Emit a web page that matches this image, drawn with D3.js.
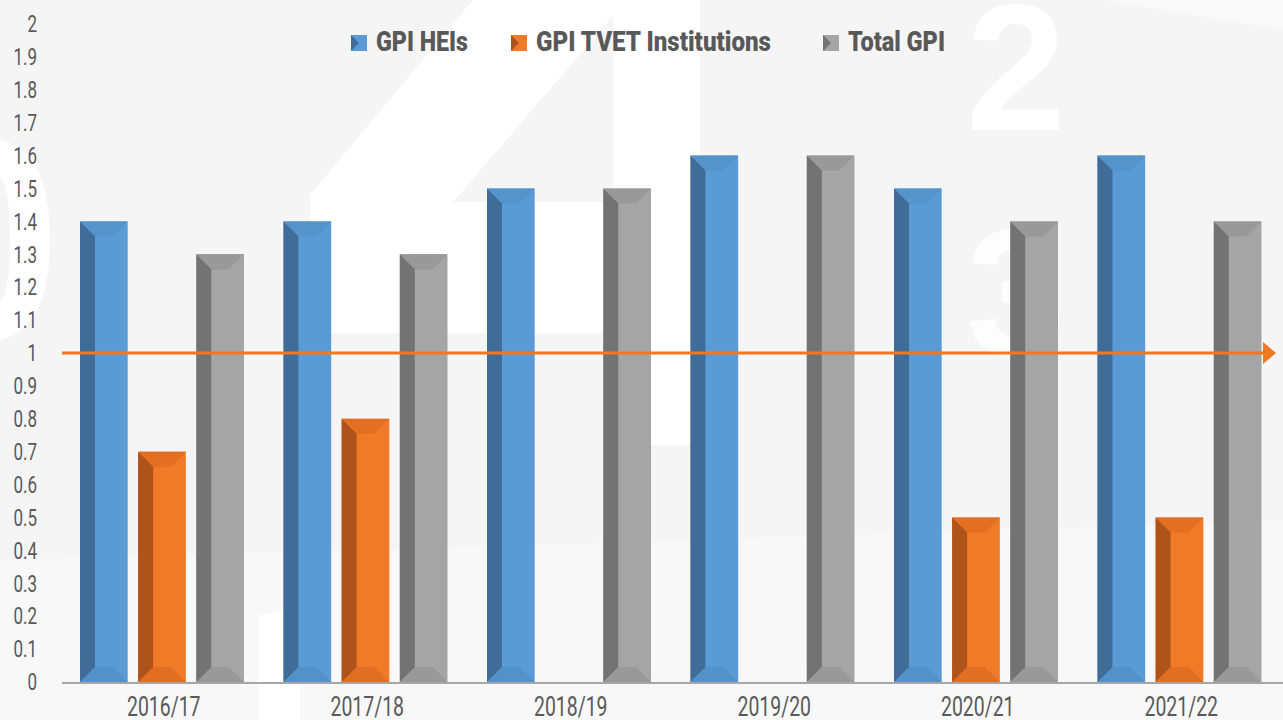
<!DOCTYPE html>
<html>
<head>
<meta charset="utf-8">
<script src="https://cdn.jsdelivr.net/npm/d3@7"></script>
<style>
  html, body { margin: 0; padding: 0; background: #f5f5f5; overflow: hidden; }
  svg { display: block; }
</style>
</head>
<body>
<div id="chart"></div>
<script>
// chart data
const categories = ["2016/17", "2017/18", "2018/19", "2019/20", "2020/21", "2021/22"];
const seriesNames = ["GPI HEIs", "GPI TVET Institutions", "Total GPI"];
const gpiHEIs = [1.4, 1.4, 1.5, 1.6, 1.5, 1.6];
const gpiTVET = [0.7, 0.8, null, null, 0.5, 0.5];
const totalGPI = [1.3, 1.3, 1.5, 1.6, 1.4, 1.4];
const yTickValues = [0, 0.1, 0.2, 0.3, 0.4, 0.5, 0.6, 0.7, 0.8, 0.9, 1, 1.1, 1.2, 1.3, 1.4, 1.5, 1.6, 1.7, 1.8, 1.9, 2];
const parityValue = 1;

const width = 1283;
const height = 720;

// face, left side, top bevel, bottom bevel
const palette = {
  "GPI HEIs": { face: "#5b9bd5", side: "#416c98", top: "#5594cb", bottom: "#5391c9" },
  "GPI TVET Institutions": { face: "#f07a28", side: "#ad531b", top: "#e36f22", bottom: "#e16f23" },
  "Total GPI": { face: "#a5a5a5", side: "#737373", top: "#999999", bottom: "#999999" }
};

const svg = d3.select("#chart")
  .append("svg")
  .attr("width", width)
  .attr("height", height);

// background decoration (faint white numbers)
const bg = svg.append("g");
bg.append("rect").attr("width", width).attr("height", height).attr("fill", "#f5f5f5");
bg.append("path")
  .attr("d", "M700,540 L1283,520 L1283,720 L700,720 Z M0,560 L700,540 L700,720 L0,720 Z")
  .attr("fill", "#f8f8f8");
bg.append("path")
  .attr("d", "M473,0 L700,0 L700,445 L613,445 L613,333 L335,333 L310,333 L310,195 Z")
  .attr("fill", "#ffffff");
bg.append("path")
  .attr("d", "M613,16 L453,202 L613,202 Z")
  .attr("fill", "#f5f5f5");
bg.append("path")
  .attr("d", "M259,615 L300,606 L300,720 L259,720 Z")
  .attr("fill", "#ffffff");
bg.append("path")
  .attr("d", "M1100,0 L1283,0 L1283,30 Z")
  .attr("fill", "#f9f9f9");
bg.append("text")
  .attr("x", 1016).attr("y", 130)
  .attr("text-anchor", "middle")
  .attr("font-family", "Liberation Sans, Arial, sans-serif")
  .attr("font-weight", "bold")
  .attr("font-size", 180)
  .attr("fill", "#ffffff")
  .text("2");
bg.append("text")
  .attr("x", 1016).attr("y", 355)
  .attr("text-anchor", "middle")
  .attr("font-family", "Liberation Sans, Arial, sans-serif")
  .attr("font-weight", "bold")
  .attr("font-size", 180)
  .attr("fill", "#ffffff")
  .attr("opacity", 0.8)
  .text("3");
bg.append("text")
  .attr("x", 62).attr("y", 340)
  .attr("text-anchor", "end")
  .attr("font-family", "Liberation Sans, Arial, sans-serif")
  .attr("font-weight", "bold")
  .attr("font-size", 290)
  .attr("fill", "#ffffff")
  .text("0");

// scales
const x0 = d3.scaleBand()
  .domain(categories)
  .range([62, 1283])
  .padding(0);

const x1 = d3.scaleBand()
  .domain(seriesNames)
  .range([18, 182])
  .paddingInner(0.18)
  .paddingOuter(0);

const y = d3.scaleLinear()
  .domain([0, 2])
  .range([682, 24]);

const seriesValues = {
  "GPI HEIs": gpiHEIs,
  "GPI TVET Institutions": gpiTVET,
  "Total GPI": totalGPI
};

const barData = [];
categories.forEach((cat, i) => {
  seriesNames.forEach(name => {
    const v = seriesValues[name][i];
    if (v != null) barData.push({ cat, name, value: v });
  });
});

// bars with bevelled faces
const bev = 15;
const bars = svg.append("g")
  .selectAll("g")
  .data(barData)
  .enter()
  .append("g")
  .attr("transform", d => `translate(${x0(d.cat) + x1(d.name)},0)`);

bars.each(function(d) {
  const g = d3.select(this);
  const w = x1.bandwidth();
  const top = y(d.value);
  const base = y(0);
  const c = palette[d.name];
  g.append("rect")
    .attr("x", 0).attr("y", top)
    .attr("width", w).attr("height", base - top)
    .attr("fill", c.face);
  g.append("polygon")
    .attr("points", [[0, top], [w, top], [w - bev, top + bev], [bev, top + bev]].join(" "))
    .attr("fill", c.top);
  g.append("polygon")
    .attr("points", [[0, base], [w, base], [w - bev, base - bev], [bev, base - bev]].join(" "))
    .attr("fill", c.bottom);
  g.append("polygon")
    .attr("points", [[0, top], [bev, top + bev], [bev, base - bev], [0, base]].join(" "))
    .attr("fill", c.side);
  g.append("line")
    .attr("x1", bev + 0.5).attr("x2", bev + 0.5)
    .attr("y1", top + bev).attr("y2", base - bev)
    .attr("stroke", c.face)
    .attr("stroke-opacity", 0.35);
});

// x axis line
svg.append("line")
  .attr("x1", 62).attr("x2", width)
  .attr("y1", y(0) + 1).attr("y2", y(0) + 1)
  .attr("stroke", "#a6a6a6")
  .attr("stroke-width", 2);

// parity line with arrow head
const lineEnd = 1263;
svg.append("line")
  .attr("x1", 62).attr("x2", lineEnd)
  .attr("y1", y(parityValue)).attr("y2", y(parityValue))
  .attr("stroke", "#ef7822")
  .attr("stroke-width", 3);
svg.append("polygon")
  .attr("points", [[lineEnd, y(parityValue) - 11], [lineEnd + 13, y(parityValue)], [lineEnd, y(parityValue) + 11]].join(" "))
  .attr("fill", "#ef7822");

// y tick labels
const yLabels = svg.append("g")
  .selectAll("g")
  .data(yTickValues)
  .enter()
  .append("g")
  .attr("transform", d => `translate(37,${y(d)}) scale(0.74,1)`);
yLabels.append("text")
  .attr("text-anchor", "end")
  .attr("dy", "0.36em")
  .attr("font-family", "Roboto, sans-serif")
  .attr("font-size", 23)
  .attr("fill", "#595959")
  .text(d => String(d));

// x tick labels
const xLabels = svg.append("g")
  .selectAll("g")
  .data(categories)
  .enter()
  .append("g")
  .attr("transform", d => `translate(${x0(d) + x0.bandwidth() / 2},716) scale(0.72,1)`);
xLabels.append("text")
  .attr("text-anchor", "middle")
  .attr("font-family", "Roboto, sans-serif")
  .attr("font-size", 27)
  .attr("fill", "#595959")
  .text(d => d);

// legend
const legendX = [351, 511, 823];
const legendW = [92, 235, 97];
const legend = svg.append("g")
  .selectAll("g")
  .data(seriesNames)
  .enter()
  .append("g")
  .attr("transform", (d, i) => `translate(${legendX[i]},35)`);
legend.append("rect")
  .attr("width", 16).attr("height", 16)
  .attr("fill", d => palette[d].face);
legend.append("polygon")
  .attr("points", "0,0 8,8 0,16")
  .attr("fill", d => palette[d].side);
legend.append("text")
  .attr("x", 25)
  .attr("y", 16)
  .attr("font-family", "Roboto, sans-serif")
  .attr("font-weight", 900)
  .attr("font-size", 27)
  .attr("fill", "#595959")
  .attr("textLength", (d, i) => legendW[i])
  .attr("lengthAdjust", "spacingAndGlyphs")
  .text(d => d);
</script>
</body>
</html>
